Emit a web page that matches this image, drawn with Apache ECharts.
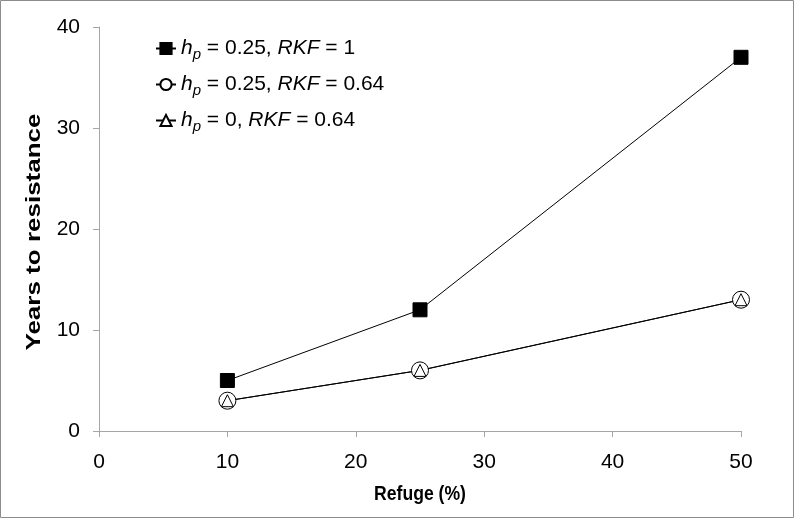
<!DOCTYPE html>
<html>
<head>
<meta charset="utf-8">
<script src="https://cdn.jsdelivr.net/npm/echarts@6/dist/echarts.min.js"></script>
<style>
  html, body { margin: 0; padding: 0; background: #fff; }
  #chart { width: 794px; height: 518px; }
</style>
</head>
<body>
<div id="chart"></div>
<script>
  // refuge (%) on x, years to resistance on y
  var refuge = [10, 25, 50]
  var yearsHp25Rkf1 = [5, 12, 37]
  var yearsHp25Rkf064 = [3, 6, 13]
  var yearsHp0Rkf064 = [3, 6, 13]
  var seriesNames = ['s1', 's2', 's3']
  var legendLabels = {
    s1: '{i|h}{sub|p} = 0.25, {i|RKF} = 1',
    s2: '{i|h}{sub|p} = 0.25, {i|RKF} = 0.64',
    s3: '{i|h}{sub|p} = 0, {i|RKF} = 0.64'
  }

  function pairs(ys) {
    return refuge.map(function (x, i) { return [x, ys[i]] })
  }

  var font = 'Arial, "Liberation Sans", sans-serif'
  var chart = echarts.init(document.getElementById('chart'))
  chart.setOption({
    animation: false,
    textStyle: { fontFamily: font },
    graphic: [{
      type: 'rect',
      shape: { x: 0.5, y: 0.5, width: 793, height: 517 },
      style: { fill: 'none', stroke: '#8c8c8c', lineWidth: 1 },
      silent: true
    }, {
      // y axis title, stretched along its length like the original
      type: 'text',
      x: 34,
      y: 232,
      rotation: Math.PI / 2,
      scaleX: 1.3,
      style: {
        text: 'Years to resistance',
        font: 'bold 20px ' + font,
        fill: '#000',
        align: 'center',
        verticalAlign: 'middle'
      },
      silent: true
    }, {
      // x axis title, a little narrower than its height
      type: 'text',
      x: 420,
      y: 494,
      scaleX: 0.88,
      style: {
        text: 'Refuge (%)',
        font: 'bold 20px ' + font,
        fill: '#000',
        align: 'center',
        verticalAlign: 'middle'
      },
      silent: true
    }],
    grid: { left: 99, right: 53, top: 27, bottom: 87 },
    legend: {
      left: 150,
      top: 33,
      orient: 'vertical',
      itemGap: 12,
      itemWidth: 20,
      itemHeight: 14,
      data: seriesNames,
      formatter: function (name) { return legendLabels[name] },
      textStyle: {
        fontSize: 21,
        color: '#000',
        fontFamily: font,
        rich: {
          i: { fontStyle: 'italic', fontSize: 21, fontFamily: font },
          sub: { fontStyle: 'italic', fontSize: 15, fontFamily: font, padding: [12, 0, 0, 0] }
        }
      }
    },
    xAxis: {
      type: 'value',
      min: 0,
      max: 50,
      interval: 10,
      axisLine: { lineStyle: { color: '#a6a6a6' } },
      axisTick: { inside: false, length: 6, lineStyle: { color: '#a6a6a6' } },
      axisLabel: { fontSize: 21, color: '#000', margin: 21 },
      splitLine: { show: false }
    },
    yAxis: {
      type: 'value',
      min: 0,
      max: 40,
      interval: 10,
      axisLine: { show: true, lineStyle: { color: '#a6a6a6' } },
      axisTick: { show: true, inside: false, length: 6, lineStyle: { color: '#a6a6a6' } },
      axisLabel: { fontSize: 21, color: '#000', margin: 19 },
      splitLine: { show: false }
    },
    series: [{
      name: 's1',
      type: 'line',
      data: pairs(yearsHp25Rkf1),
      symbol: 'rect',
      symbolSize: 14,
      itemStyle: { color: '#000', borderColor: '#000', borderWidth: 1 },
      lineStyle: { color: '#000', width: 1 }
    }, {
      name: 's2',
      type: 'line',
      data: pairs(yearsHp25Rkf064),
      symbol: 'circle',
      symbolSize: 17,
      itemStyle: { color: '#fff', borderColor: '#000', borderWidth: 1 },
      lineStyle: { color: '#000', width: 1 }
    }, {
      name: 's3',
      type: 'line',
      data: pairs(yearsHp0Rkf064),
      symbol: 'triangle',
      symbolSize: 12,
      itemStyle: { color: '#fff', borderColor: '#000', borderWidth: 1 },
      lineStyle: { color: '#000', width: 1 }
    }]
  })
</script>
</body>
</html>
